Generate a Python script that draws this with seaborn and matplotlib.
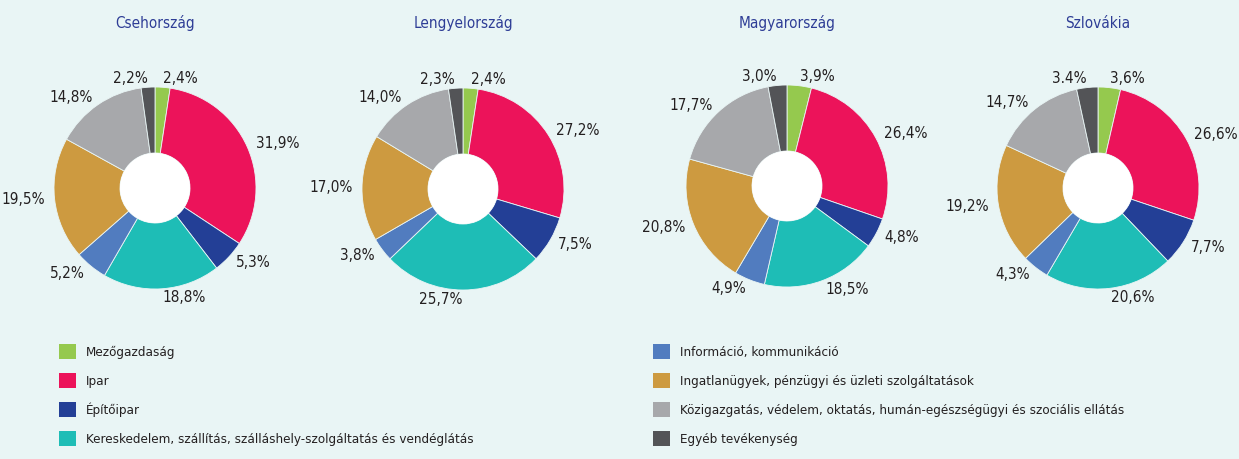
import matplotlib
matplotlib.use("Agg")
import matplotlib.pyplot as plt
from matplotlib.patches import Patch, Circle
import seaborn as sns

categories = [
    "Mezőgazdaság",
    "Ipar",
    "Építőipar",
    "Kereskedelem, szállítás, szálláshely-szolgáltatás és vendéglátás",
    "Információ, kommunikáció",
    "Ingatlanügyek, pénzügyi és üzleti szolgáltatások",
    "Közigazgatás, védelem, oktatás, humán-egészségügyi és szociális ellátás",
    "Egyéb tevékenység",
]
countries = ["Csehország", "Lengyelország", "Magyarország", "Szlovákia"]
cz = [2.4, 31.9, 5.3, 18.8, 5.2, 19.5, 14.8, 2.2]
pl = [2.4, 27.2, 7.5, 25.7, 3.8, 17.0, 14.0, 2.3]
hu = [3.9, 26.4, 4.8, 18.5, 4.9, 20.8, 17.7, 3.0]
sk = [3.6, 26.6, 7.7, 20.6, 4.3, 19.2, 14.7, 3.4]
sk_labels = ["3,6%", "26,6%", "7,7%", "20,6%", "4,3%", "19,2%", "14,7%", "3.4%"]
series = [cz, pl, hu, sk]

colors = ["#95c94e", "#ec135a", "#233f96", "#1ebdb6", "#517cbf",
          "#cd9a40", "#a7a8ab", "#535457"]
BG = "#e9f5f5"
TXT = "#231f20"
TITLE = "#2e3d96"

sns.set_theme(style="white")
plt.rcParams["font.family"] = ["DejaVu Sans"]
plt.rcParams["font.stretch"] = "condensed"
palette = sns.color_palette(colors)

W, H = 1239, 459
fig = plt.figure(figsize=(W / 100, H / 100), dpi=100, facecolor=BG)

centers = [(155, 188), (463, 189), (787, 186), (1098, 188)]
R = 101.0
S = 300.0
L = S / (2 * R)
hole = 35.0 / R

for i, (vals, (cx, cy)) in enumerate(zip(series, centers)):
    ax = fig.add_axes([(cx - S / 2) / W, (H - cy - S / 2) / H, S / W, S / H])
    ax.axis("off")
    if i == 3:
        labels = sk_labels
    else:
        labels = [f"{v:.1f}%".replace(".", ",") for v in vals]
    wedges, texts = ax.pie(
        vals, colors=palette, startangle=90, counterclock=False,
        radius=1.0, labels=labels, labeldistance=1.09,
        wedgeprops=dict(width=1 - hole, edgecolor=BG, linewidth=0.6),
        textprops=dict(fontsize=11, color=TXT, fontstretch="condensed"),
    )
    ax.add_patch(Circle((0, 0), hole, facecolor="white", edgecolor="none", zorder=5))
    ax.set_xlim(-L, L)
    ax.set_ylim(-L, L)
    ax.set_aspect("equal")
    fig.text(cx / W, 1 - 23 / H, countries[i], ha="center", va="center",
             fontsize=11, color=TITLE, fontstretch="condensed")

handles = [Patch(facecolor=c, edgecolor="none") for c in colors]
leg_kw = dict(frameon=False, handlelength=1.3, handleheight=1.3,
              handletextpad=0.7, labelspacing=1.08, borderaxespad=0, borderpad=0,
              labelcolor=TXT, prop=dict(size=9.6, stretch="condensed"))
leg1 = fig.legend(handles[:4], categories[:4], loc="upper left",
                  bbox_to_anchor=(59 / W, 1 - 344 / H), **leg_kw)
leg2 = fig.legend(handles[4:], categories[4:], loc="upper left",
                  bbox_to_anchor=(653 / W, 1 - 344 / H), **leg_kw)

fig.savefig("out.png", dpi=100, facecolor=BG)
